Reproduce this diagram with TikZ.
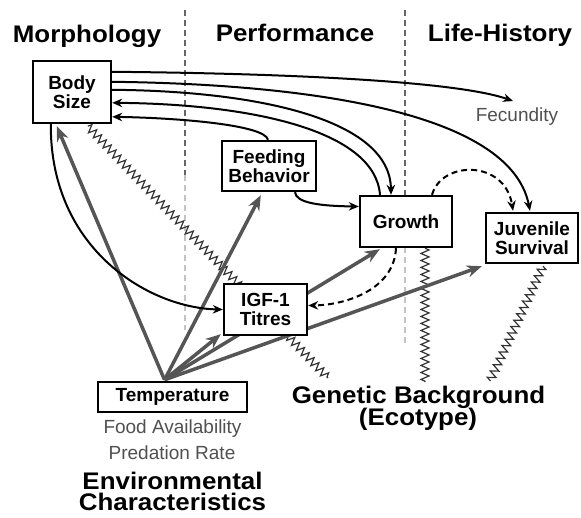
\documentclass[tikz,border=0pt]{standalone}
\usepackage{fontspec}
\setmainfont{Liberation Sans}
\newfontfamily\widefont{Liberation Sans}[FakeStretch=1.08]
\usetikzlibrary{arrows.meta,decorations.pathmorphing,calc,backgrounds}

\definecolor{arrgray}{HTML}{555555}
\definecolor{txtgray}{HTML}{505050}
\definecolor{divdark}{HTML}{666666}
\definecolor{divlight}{HTML}{C4C4C4}

\begin{document}
\begin{tikzpicture}[x=1pt,y=-1pt,
  boxnode/.style={draw=black, line width=2.4pt, fill=white, inner sep=0pt, align=center,
    font=\fontsize{19}{19}\selectfont\bfseries},
  header/.style={font=\widefont\fontsize{24}{24}\selectfont\bfseries, anchor=base, inner sep=0pt},
  bigl/.style={font=\widefont\fontsize{24}{24}\selectfont\bfseries, anchor=base, inner sep=0pt},
  graytext/.style={font=\fontsize{19}{19}\selectfont, text=txtgray, anchor=base, inner sep=0pt},
  blk/.style={draw=black, line width=2pt, -{Stealth[length=10pt,width=8.5pt]}},
  dsh/.style={blk, dash pattern=on 6pt off 4pt},
  garr/.style={draw=arrgray, line width=3.5pt, -{Stealth[length=15pt,width=12pt]}},
  zz/.style={draw=black!80, line width=1.2pt, decorate,
    decoration={zigzag, segment length=7pt, amplitude=4pt}},
  divider/.style={line width=1.6pt, dash pattern=on 6pt off 4pt},
]
\useasboundingbox (0,0) rectangle (581,517);

% headers
\node[header] (hmorph) at (87,42) {Morphology};
\node[header] (hperf) at (295,41) {Performance};
\node[header] (hlife) at (500,41) {Life-History};

% boxes
\node[boxnode, minimum width=78pt, minimum height=62pt] (body) at (72,92) {Body\\Size};
\node[boxnode, minimum width=94pt, minimum height=50pt] (feed) at (269,166) {Feeding\\Behavior};
\node[boxnode, minimum width=92pt, minimum height=51pt] (growth) at (406,221.5) {Growth};
\node[boxnode, minimum width=92pt, minimum height=50pt] (juv) at (532,238) {Juvenile\\Survival};
\node[boxnode, minimum width=83pt, minimum height=51pt] (igf) at (265.5,309.5) {IGF-1\\Titres};
\node[boxnode, minimum width=149pt, minimum height=30pt] (temp) at (172.5,397) {Temperature};

% texts
\node[graytext] (fec) at (517,121) {Fecundity};
\node[graytext] (food) at (172.5,433) {Food Availability};
\node[graytext] (pred) at (172,459) {Predation Rate};
\node[bigl] (env1) at (172.5,489) {Environmental};
\node[bigl] (env2) at (172.5,510) {Characteristics};
\node[bigl] (gen1) at (418.5,403) {Genetic Background};
\node[bigl] (gen2) at (418,425) {(Ecotype)};

\coordinate (fectip) at (513,101);
\coordinate (gz1) at (328,378);
\coordinate (gz2) at (425,382);
\coordinate (gz3) at (490,381);
\coordinate (torig) at ($(temp.north)+(-8,-1)$);

\begin{scope}[on background layer]
  \fill[white] (0,0) rectangle (581,517);
  % dividers
  \draw[divider, draw=divdark] (185,10) -- (185,175);
  \draw[divider, draw=divlight] (185,175) -- (185,330);
  \draw[divider, draw=divdark] (405,10) -- (405,200);
  \draw[divider, draw=divlight] (405,247) -- (405,345);

  % genetic background zigzags
  \draw[zz] ($(body.south west)+(56,2)$) -- (gz1);
  \draw[zz] ($(growth.south)+(19,0)$) -- (gz2);
  \draw[zz] ($(juv.south)+(11,2)$) -- (gz3);

  % environmental (temperature) arrows
  \draw[garr] (torig) -- ($(body.south west)+(25,2)$);
  \draw[garr] (torig) -- ($(feed.south west)+(40,3)$);
  \draw[garr] (torig) -- ($(igf.south west)+(-2,-2)$);
  \draw[garr] (torig) -- ($(growth.south west)+(21,1)$);
  \draw[garr] (torig) -- ($(juv.south west)+(-3,2)$);

  % black connectors
  \draw[blk] ($(body.north east)+(0,12)$) .. controls (250,73) and (450,79) .. (fectip);
  \draw[blk] ($(body.north east)+(0,22)$) .. controls (300,84) and (510,110) .. ($(juv.north)+(-2,-1)$);
  \draw[blk] ($(body.north east)+(0,30)$) .. controls (260,91) and (390,120) .. ($(growth.north)+(-15,0)$);
  \draw[blk] ($(growth.north)+(-26,0)$) .. controls (375,130) and (250,104) .. ($(body.north east)+(0,43)$);
  \draw[blk] ($(feed.north)+(-1,0)$) .. controls (265,125) and (180,118) .. ($(body.north east)+(0,57)$);
  \draw[blk] ($(feed.south)+(26,0)$) .. controls (296,203) and (320,206) .. ($(growth.west)+(0,-15)$);
  \draw[blk] ($(body.south west)+(19,0)$) .. controls (50,250) and (150,308) .. (igf.west);
  \draw[dsh] ($(growth.north)+(26,0)$) .. controls (442,160) and (505,160) .. ($(juv.north)+(-19,-1)$);
  \draw[dsh] ($(growth.south)+(-10,0)$) .. controls (394,290) and (345,305) .. ($(igf.east)+(0,-4)$);
\end{scope}
\end{tikzpicture}
\end{document}
